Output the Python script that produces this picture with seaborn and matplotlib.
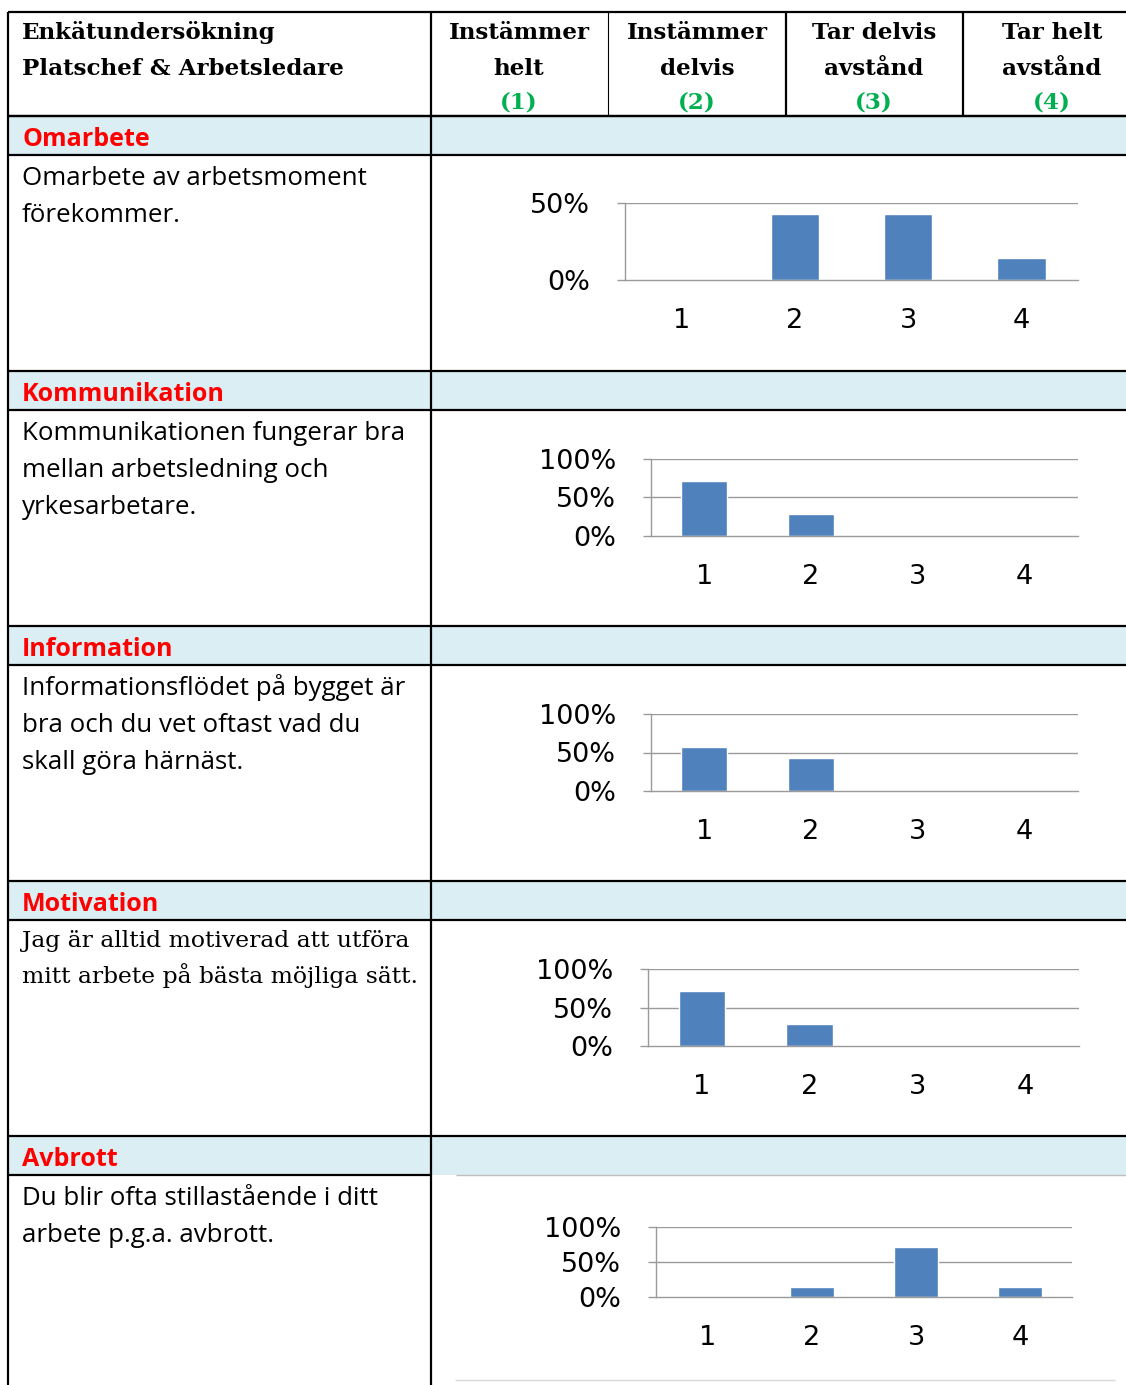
import numpy as np
import pandas as pd
import matplotlib
matplotlib.use("Agg")
import matplotlib.pyplot as plt
import seaborn as sns
from matplotlib.patches import Rectangle

# ---------------- data ----------------
categories = ["1", "2", "3", "4"]
omarbete = [0.0, 42.9, 42.9, 14.3]
kommunikation = [71.4, 28.6, 0.0, 0.0]
information = [57.1, 42.9, 0.0, 0.0]
motivation = [71.4, 28.6, 0.0, 0.0]
avbrott = [0.0, 14.3, 71.4, 14.3]

section_titles = ["Omarbete", "Kommunikation", "Information", "Motivation", "Avbrott"]
statements = [
    ["Omarbete av arbetsmoment", "förekommer."],
    ["Kommunikationen fungerar bra", "mellan arbetsledning och", "yrkesarbetare."],
    ["Informationsflödet på bygget är", "bra och du vet oftast vad du", "skall göra härnäst."],
    ["Jag är alltid motiverad att utföra", "mitt arbete på bästa möjliga sätt."],
    ["Du blir ofta stillastående i ditt", "arbete p.g.a. avbrott."],
]
title_lines = ["Enkätundersökning", "Platschef & Arbetsledare"]
column_headers = [["Instämmer", "helt"], ["Instämmer", "delvis"],
                  ["Tar delvis", "avstånd"], ["Tar helt", "avstånd"]]
column_numbers = ["(1)", "(2)", "(3)", "(4)"]
series = [omarbete, kommunikation, information, motivation, avbrott]
y_max = [50, 100, 100, 100, 100]

# ---------------- layout (pixels) ----------------
W, H = 1126, 1385
sns.set_style("white")
plt.rcParams["font.family"] = ["DejaVu Sans"]

fig = plt.figure(figsize=(W / 100, H / 100), dpi=100)
bg = fig.add_axes([0, 0, 1, 1])
bg.set_xlim(0, W)
bg.set_ylim(H, 0)
bg.axis("off")

BLUE_FILL = "#DAEEF3"
LW = 1.6
section_top = [117, 372, 627, 882, 1137]
section_h = 38

for t in section_top:
    bg.add_patch(Rectangle((8, t), W - 8, section_h, facecolor=BLUE_FILL, edgecolor="none", zorder=0))

def hline(y, x0, x1, lw=LW, color="black"):
    bg.plot([x0, x1], [y, y], color=color, lw=lw, solid_capstyle="butt", zorder=2)

def vline(x, y0, y1, lw=LW, color="black"):
    bg.plot([x, x], [y0, y1], color=color, lw=lw, solid_capstyle="butt", zorder=2)

hline(12, 8, W)
hline(116, 8, W)
for t in section_top[:-1]:
    hline(t - 1, 8, W)
    hline(t + section_h, 8, W)
hline(section_top[-1] - 1, 8, W)
hline(section_top[-1] + section_h, 8, 431)
hline(section_top[-1] + section_h, 456, W, lw=1.0, color="#BFBFBF")
hline(1380, 455, 1115, lw=1.0, color="#D9D9D9")
vline(8, 12, H)
vline(431, 12, H)
vline(608, 12, 116, lw=0.8)
vline(786, 12, 116)
vline(963, 12, 116)

# header texts
serif_b = dict(family="DejaVu Serif", weight="bold", fontsize=16.6, color="black")
bg.text(22, 39, title_lines[0], ha="left", va="baseline", **serif_b)
bg.text(22, 75, title_lines[1], ha="left", va="baseline", **serif_b)
col_centers = [519, 697, 874, 1052]
for cx, hdr, num in zip(col_centers, column_headers, column_numbers):
    bg.text(cx, 39, hdr[0], ha="center", va="baseline", **serif_b)
    bg.text(cx, 75, hdr[1], ha="center", va="baseline", **serif_b)
    bg.text(cx, 109, num, ha="center", va="baseline", family="DejaVu Serif",
            weight="bold", fontsize=16.6, color="#00B050")

# section titles and statements
for i, (t, title, lines) in enumerate(zip(section_top, section_titles, statements)):
    bg.text(22, t + 29, title, ha="left", va="baseline", family="Open Sans",
            weight="bold", fontsize=18, color="#FF0000")
    base = t + 68
    for j, line in enumerate(lines):
        if i == 3:
            bg.text(22, base - 3 + j * 36, line, ha="left", va="baseline",
                    family="DejaVu Serif", fontsize=16.9, color="black")
        else:
            bg.text(22, base + j * 37, line, ha="left", va="baseline",
                    family="Open Sans", fontsize=18.6, color="black")

# ---------------- charts ----------------
boxes = [  # left, right, top, bottom in pixels
    (625, 1078, 203, 280),
    (651, 1078, 459, 536),
    (651, 1078, 714, 791),
    (648, 1079, 969, 1046),
    (656, 1072, 1227, 1297),
]
GRID = "#9A9A9A"
for vals, ymax, (l, r, t, b) in zip(series, y_max, boxes):
    ax = fig.add_axes([l / W, (H - b) / H, (r - l) / W, (b - t) / H])
    df = pd.DataFrame({"cat": categories, "val": vals})
    sns.barplot(data=df, x="cat", y="val", ax=ax, color="#4F81BD",
                saturation=1, width=0.43, errorbar=None)
    ax.set_ylim(0, ymax)
    ax.set_xlim(-0.5, 3.5)
    ticks = [0, 50] if ymax == 50 else [0, 50, 100]
    ax.set_yticks(ticks)
    ax.set_yticklabels([f"{v}%" for v in ticks])
    ax.set_xlabel("")
    ax.set_ylabel("")
    ax.patch.set_alpha(0)
    for v in ticks[1:]:
        ax.axhline(v, color=GRID, lw=1.0, zorder=0)
    for s in ["top", "right"]:
        ax.spines[s].set_visible(False)
    for s in ["left", "bottom"]:
        ax.spines[s].set_color(GRID)
        ax.spines[s].set_linewidth(1.0)
    ax.set_xticks([-0.5, 0.5, 1.5, 2.5, 3.5], minor=True)
    ax.tick_params(axis="x", which="major", length=0, pad=20, labelsize=19.5)
    ax.tick_params(axis="x", which="minor", length=6, width=1.0, color=GRID, direction="out")
    ax.tick_params(axis="y", which="major", length=6, width=1.0, color=GRID,
                   direction="out", pad=19, labelsize=19.5, left=True)
    for lab in ax.get_xticklabels() + ax.get_yticklabels():
        lab.set_family("DejaVu Sans")
        lab.set_color("black")

fig.savefig("out.png", dpi=100)
